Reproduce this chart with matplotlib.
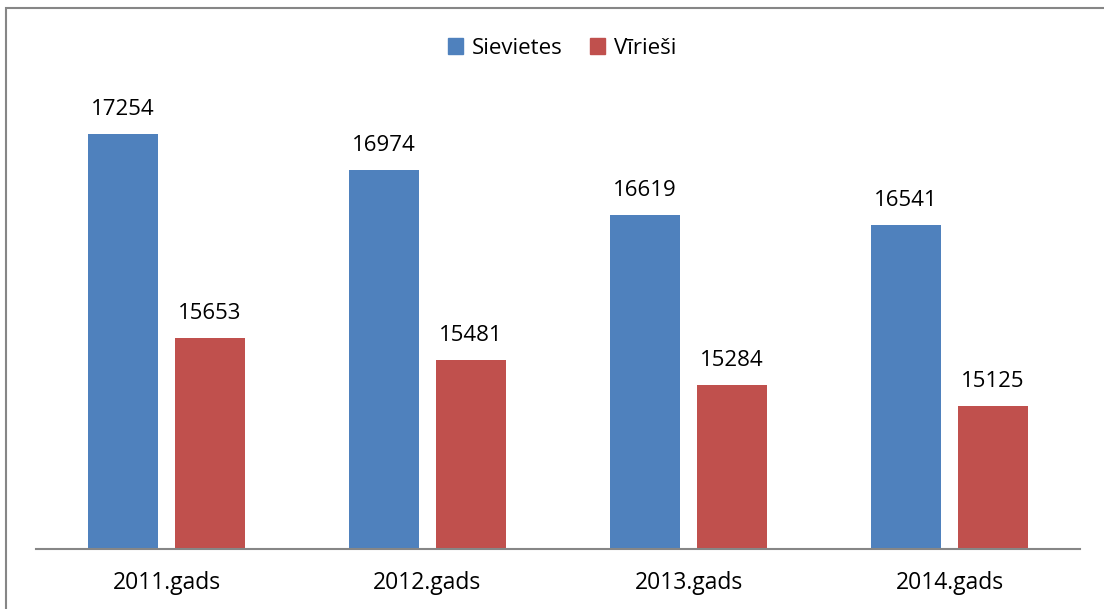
import matplotlib
matplotlib.use("Agg")
import matplotlib.pyplot as plt
from matplotlib.patches import Rectangle, Patch
import numpy as np

years = ["2011.gads", "2012.gads", "2013.gads", "2014.gads"]
sievietes = [17254, 16974, 16619, 16541]
virieshi = [15653, 15481, 15284, 15125]

plt.rcParams["font.family"] = ["Open Sans", "DejaVu Sans"]

BLUE = "#4F81BD"
RED = "#C0504D"

fig = plt.figure(figsize=(11.04, 6.09), dpi=100)
ax = fig.add_axes([36 / 1104, 60 / 609, 1044 / 1104, 446 / 609])

x = np.arange(len(years))
w = 0.265
off = w / 2 + 0.034

b1 = ax.bar(x - off, sievietes, w, color=BLUE, label="Sievietes")
b2 = ax.bar(x + off, virieshi, w, color=RED, label="Vīrieši")

for bars in (b1, b2):
    for r in bars:
        ax.annotate(f"{int(r.get_height())}",
                    (r.get_x() + r.get_width() / 2, r.get_height()),
                    xytext=(0, 10), textcoords="offset points",
                    ha="center", va="bottom", fontsize=16)

ax.set_xlim(-0.5, len(years) - 0.5)
ax.set_ylim(14000, 17500)
ax.set_xticks(x)
ax.set_xticklabels(years, fontsize=16.5)
ax.tick_params(axis="x", length=0, pad=16)
ax.set_yticks([])
for s in ("top", "right", "left"):
    ax.spines[s].set_visible(False)
ax.spines["bottom"].set_color("#868686")
ax.spines["bottom"].set_linewidth(1.5)

handles = [Patch(color=BLUE), Patch(color=RED)]
fig.legend(handles, ["Sievietes", "Vīrieši"], loc="center",
           bbox_to_anchor=(562 / 1104, 1 - 48 / 609), ncol=2, frameon=False,
           fontsize=16, handlelength=0.7, handleheight=0.7,
           handletextpad=0.4, columnspacing=1.2)

# chart border
fig.patches.append(Rectangle((6 / 1104, -0.05), 1.2, 1 - 8 / 609 + 0.05,
                             transform=fig.transFigure, fill=False,
                             edgecolor="#868686", linewidth=1.5))

fig.savefig("out.png", dpi=100)
